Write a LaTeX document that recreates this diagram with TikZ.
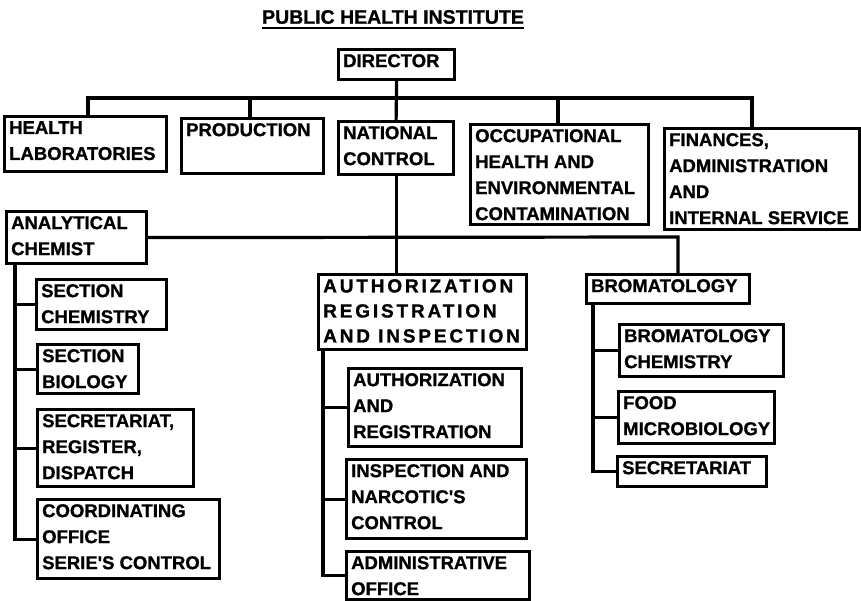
\documentclass[tikz,border=0pt]{standalone}
\usepackage{fontspec}
\newfontfamily\orgfont{Liberation Sans}[BoldFeatures={FakeBold=1}]
\newfontfamily\orgwide{Liberation Sans}[LetterSpace=15,BoldFeatures={FakeBold=1}]
\tikzset{
  orgbox/.style={draw, line width=3.2pt, inner sep=0pt, anchor=north west},
  orgtxt/.style={anchor=north west, inner sep=0pt, align=left,
    font=\orgfont\bfseries\fontsize{18.5}{26}\selectfont},
  conn/.style={line width=3.2pt, line join=miter},
}
\newcommand\orgnode[7][]{%
  \node[orgbox, minimum width=#5pt, minimum height=#6pt] (#2) at (#3,#4) {};
  \node[orgtxt, #1] (#2t) at ([xshift=6pt,yshift=-6pt]#2.north west) {#7};}
\begin{document}
\begin{tikzpicture}[x=1pt,y=-1pt]
\useasboundingbox (0,0) rectangle (861,601);
% title
\node[inner sep=0pt, font=\orgfont\bfseries\fontsize{19.5}{22}\selectfont] (title) at (393,17) {PUBLIC HEALTH INSTITUTE};
\draw[line width=2.2pt] ([yshift=-4pt]title.base west) -- ([yshift=-4pt]title.base east);
% top level
\orgnode{dir}{337}{48}{116}{30}{DIRECTOR}
\orgnode{hl}{3}{115}{162}{55}{HEALTH\\LABORATORIES}
\orgnode{prod}{180}{117}{142}{55}{PRODUCTION}
\orgnode{nc}{337}{120}{115}{53}{NATIONAL\\CONTROL}
\orgnode{occ}{469}{123}{178}{100}{OCCUPATIONAL\\HEALTH AND\\ENVIRONMENTAL\\CONTAMINATION}
\orgnode{fin}{663}{127}{195}{101}{FINANCES,\\ADMINISTRATION\\AND\\INTERNAL SERVICE}
% second level
\orgnode{ac}{5}{210}{140}{52}{ANALYTICAL\\CHEMIST}
\orgnode[font=\orgwide\bfseries\fontsize{19}{25}\selectfont]{ari}{317}{273}{208}{75}{AUTHORIZATION\\REGISTRATION\\AND INSPECTION}
\orgnode{brom}{585}{273}{163}{29}{BROMATOLOGY}
% left column
\orgnode{sc}{35}{278}{130}{50}{SECTION\\CHEMISTRY}
\orgnode{sb}{36}{343}{101}{49}{SECTION\\BIOLOGY}
\orgnode{sec}{36}{408}{156}{77}{SECRETARIAT,\\REGISTER,\\DISPATCH}
\orgnode{co}{36}{498}{182}{79}{COORDINATING\\OFFICE\\SERIE'S CONTROL}
% middle column
\orgnode{ar}{347}{367}{173}{78}{AUTHORIZATION\\AND\\REGISTRATION}
\orgnode{inc}{345}{458}{180}{79}{INSPECTION AND\\NARCOTIC'S\\CONTROL}
\orgnode{ao}{345}{550}{183}{48}{ADMINISTRATIVE\\OFFICE}
% right column
\orgnode{bc}{618}{323}{164}{52}{BROMATOLOGY\\CHEMISTRY}
\orgnode{fm}{617}{390}{156}{52}{FOOD\\MICROBIOLOGY}
\orgnode{sec2}{616}{455}{149}{30}{SECRETARIAT}
% connectors: top bus
\coordinate (busL) at (88,98);
\coordinate (busR) at (752,98);
\draw[conn] (busL |- hl.north) -- (busL) -- (busR) -- (busR |- fin.north);
\draw[conn] (dir.south) -- (nc.north);
\draw[conn] (busL -| 250,0) -- (prod.north -| 250,0);
\draw[conn] (busL -| 558,0) -- (occ.north -| 558,0);
% national control down
\draw[conn] (nc.south) -- (nc.south |- ari.north);
\coordinate (bd) at (678,237);
\draw[conn] (ac.east) -- (bd) -- (bd |- brom.north);
% left column
\coordinate (lv) at ([xshift=10pt]ac.south west);
\draw[conn] (lv) |- (co.west);
\draw[conn] (lv |- sc.west) -- (sc.west);
\draw[conn] (lv |- sb.west) -- (sb.west);
\draw[conn] (lv |- sec.west) -- (sec.west);
% middle column
\coordinate (mv) at ([xshift=6pt]ari.south west);
\draw[conn] (mv) |- (ao.west);
\draw[conn] (mv |- ar.west) -- (ar.west);
\draw[conn] (mv |- inc.west) -- (inc.west);
% right column
\coordinate (rv) at ([xshift=8pt]brom.south west);
\draw[conn] (rv) |- (sec2.west);
\draw[conn] (rv |- bc.west) -- (bc.west);
\draw[conn] (rv |- fm.west) -- (fm.west);
\end{tikzpicture}
\end{document}
